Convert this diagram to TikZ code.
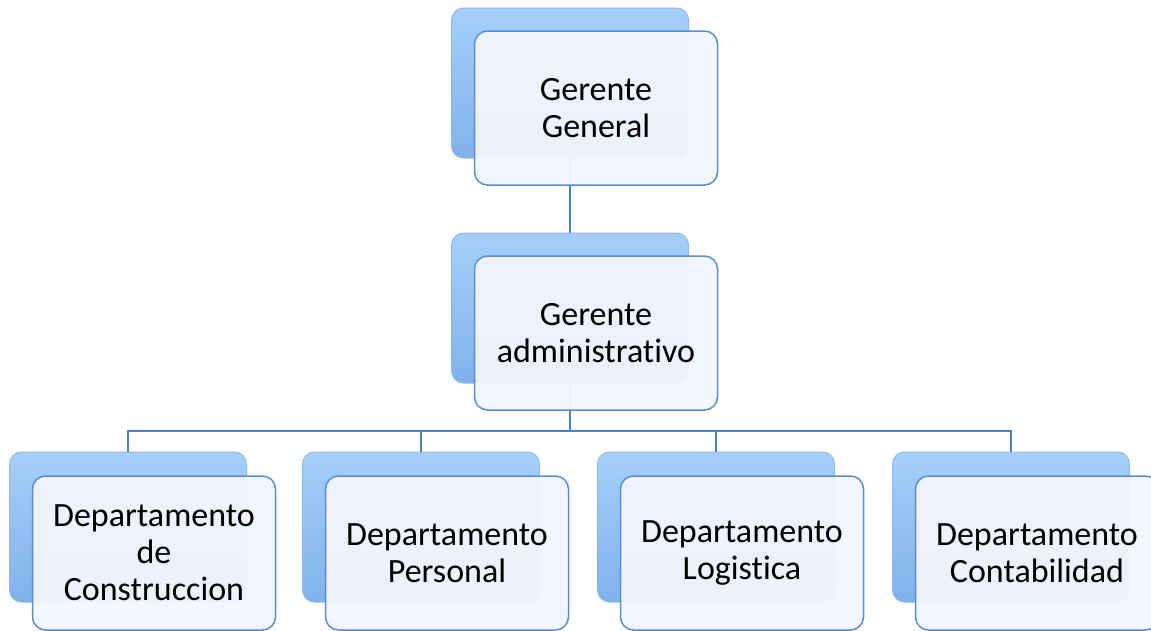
\documentclass[tikz,border=0pt]{standalone}
\usepackage{fontspec}
\setmainfont{Carlito}[Ligatures=CommonOff]
\usetikzlibrary{calc}

\definecolor{backtop}{HTML}{A6CFFA}
\definecolor{backbot}{HTML}{80B1EA}
\definecolor{backline}{HTML}{8FBCEC}
\definecolor{frontfill}{HTML}{F3F5FD}
\definecolor{frontline}{HTML}{5A8DCF}
\definecolor{linkline}{HTML}{4C80C0}

\tikzset{
	backbox/.style={minimum width=237pt, minimum height=150pt, rounded corners=12pt,
		top color=backtop, bottom color=backbot, draw=backline, line width=1pt},
	frontbox/.style={minimum width=243pt, minimum height=154pt, rounded corners=13pt,
		fill=frontfill, fill opacity=0.95, text opacity=1, draw=frontline, line width=1.5pt,
		align=center, font=\fontsize{34}{37}\selectfont},
	link/.style={draw=linkline, line width=1.6pt}
}

\begin{document}
\begin{tikzpicture}[x=1pt, y=-1pt]
		\useasboundingbox (0,0) rectangle (1151,630);

		% back boxes
		\draw (570,83) node[backbox] (gg-back) {};
		\draw (570,308) node[backbox] (ga-back) {};
		\draw (128,527) node[backbox] (d1-back) {};
		\draw (421,527) node[backbox] (d2-back) {};
		\draw (716,527) node[backbox] (d3-back) {};
		\draw (1011,527) node[backbox] (d4-back) {};

		\coordinate (bar) at (570,431);

		% connectors
		\draw [link] (gg-back.south) -- (ga-back.north);
		\draw [link] (ga-back.south) -- (bar);
		\draw [link] (bar) -| (d1-back.north);
		\draw [link] (bar) -| (d2-back.north);
		\draw [link] (bar) -| (d3-back.north);
		\draw [link] (bar) -| (d4-back.north);

		% front boxes
		\draw (596,108) node[frontbox] (gg) {Gerente\\General};
		\draw (596,333) node[frontbox] (ga) {Gerente\\administrativo};
		\draw (154,553) node[frontbox] (d1) {Departamento\\de\\Construccion};
		\draw (447,553) node[frontbox] (d2) {Departamento\\Personal};
		\draw (742,553) node[frontbox] (d3) {Departamento\\Logistica};
		\draw (1037,553) node[frontbox] (d4) {Departamento\\Contabilidad};
	\end{tikzpicture}
\end{document}
